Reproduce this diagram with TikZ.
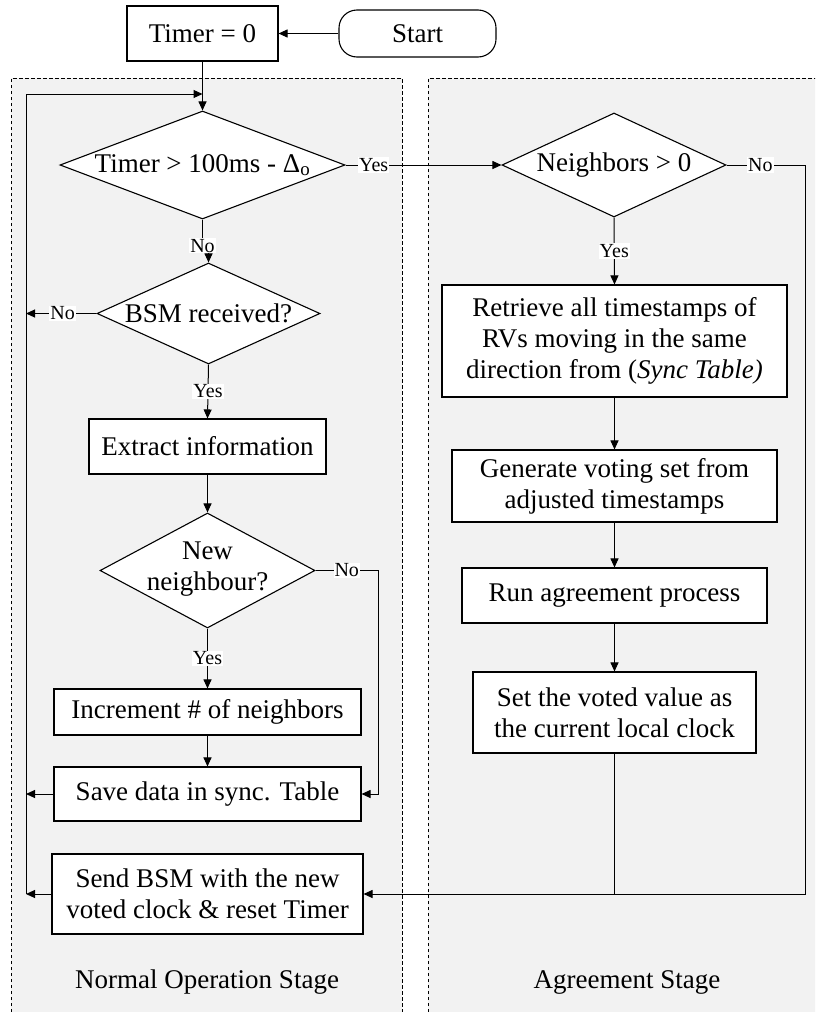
\documentclass[tikz,border=0pt]{standalone}
\usepackage{fontspec}
\setmainfont{Liberation Serif}
\usetikzlibrary{shapes.geometric,arrows.meta}

\newcommand\mainsz{\fontsize{27}{31}\selectfont}
\newcommand\lblsz{\fontsize{20}{22}\selectfont}

\tikzset{
  box/.style={draw, fill=white, line width=1.1pt, inner sep=0pt, align=center, font=\mainsz},
  dia/.style={draw, fill=white, diamond, line width=1.1pt, inner sep=0pt},
  txt/.style={inner sep=0pt, align=center, font=\mainsz},
  conn/.style={line width=1pt},
  arr/.style={line width=1pt, -{Triangle[length=9pt,width=8pt]}},
  lbl/.style={fill=white, inner sep=1pt, font=\lblsz},
}

\begin{document}
\begin{tikzpicture}[x=1pt, y=-1pt]
\useasboundingbox (0,0) rectangle (815,1012);

% stage panels (open at the bottom and right)
\begin{scope}
  \clip (0,0) rectangle (815,1012);
  \fill[gray!10] (11,78) rectangle (402,1030);
  \draw[line width=0.9pt, dash pattern=on 3.5pt off 2.5pt] (11,1030) -- (11,78) -- (402,78) -- (402,1030);
  \fill[gray!10] (428,78) rectangle (830,1030);
  \draw[line width=0.9pt, dash pattern=on 3.5pt off 2.5pt] (428,1030) -- (428,78) -- (830,78);
\end{scope}

% start and timer reset
\node[box, minimum width=151pt, minimum height=55pt] (timer) at (202.5,33.5) {Timer = 0};
\node[box, rounded corners=18pt, minimum width=157pt, minimum height=47pt] (start) at (417.5,33.5) {Start};

% normal operation stage
\node[dia, minimum width=285pt, minimum height=108pt] (d1) at (202.5,165) {};
\node[txt] (d1t) at (d1.center) {Timer > 100ms - Δ\textsubscript{o}};

\node[dia, minimum width=223pt, minimum height=101pt] (d2) at (208.5,313.5) {};
\node[txt] (d2t) at (d2.center) {BSM received?};

\node[box, minimum width=237pt, minimum height=55pt] (extract) at (207.5,446.5) {Extract information};

\node[dia, minimum width=215pt, minimum height=115pt] (d3) at (207.5,570.5) {};
\node[txt] (d3t) at ([yshift=1pt]d3.center) {New\\neighbour?};

\node[box, minimum width=307pt, minimum height=46pt] (incr) at (207.5,712) {Increment \# of neighbors};
\node[box, minimum width=307pt, minimum height=54pt] (save) at (207.5,794) {Save data in sync. Table};
\node[box, minimum width=311pt, minimum height=80pt] (send) at (207.5,894) {Send BSM with the new\\voted clock \& reset Timer};

\node[txt] (normal) at (207,982) {Normal Operation Stage};

% agreement stage
\node[dia, minimum width=224pt, minimum height=104pt] (n1) at (614,165) {};
\node[txt] (n1t) at (n1.center) {Neighbors > 0};

\node[box, minimum width=345pt, minimum height=112pt] (retr) at (614.5,341) {Retrieve all timestamps of\\RVs moving in the same\\direction from (\textit{Sync Table)}};
\node[box, minimum width=325pt, minimum height=72pt] (gen) at (614.5,486) {Generate voting set from\\adjusted timestamps};
\node[box, minimum width=305pt, minimum height=55pt] (run) at (614.5,595.5) {Run agreement process};
\node[box, minimum width=283pt, minimum height=81pt] (setv) at (614.5,712.5) {Set the voted value as\\the current local clock};

\node[txt] (agree) at (627,982) {Agreement Stage};

% routing points
\coordinate (busT) at (26,94);
\coordinate (busB) at (26,894);
\coordinate (d3R) at (378,570.5);
\coordinate (n1R) at (805,165);

% connectors
\draw[arr] (start) -- (timer);
\draw[arr] (timer) -- (d1);
\draw[arr] (busB) -- (busT) -- (busT -| d1.north);

\draw[arr] (d1.south) -- node[lbl, pos=1]{No} ++(0,26) -| (d2.north);
\draw[arr] (d2.west) -- node[lbl, pos=0.48]{No} (d2.west -| busT);
\draw[arr] (d2.south) -- node[lbl]{Yes} (extract.north);
\draw[arr] (extract) -- (d3);
\draw[arr] (d3.south) -- node[lbl]{Yes} (incr.north);
\draw[arr] (d3.east) -- node[lbl]{No} (d3R) |- (save.east);
\draw[arr] (incr) -- (save);
\draw[arr] (save.west) -- (save.west -| busT);
\draw[arr] (send.west) -- (send.west -| busT);

\draw[arr] (d1.east) -- node[lbl, pos=0.18]{Yes} (n1.west);
\draw[arr] (n1.south) -- node[lbl]{Yes} (retr.north);
\draw[arr] (n1.east) -- node[lbl, pos=0.43]{No} (n1R) |- (send.east);
\draw[arr] (retr) -- (gen);
\draw[arr] (gen) -- (run);
\draw[arr] (run) -- (setv);
\draw[conn] (setv.south) -- (setv.south |- send.east);
\end{tikzpicture}
\end{document}
